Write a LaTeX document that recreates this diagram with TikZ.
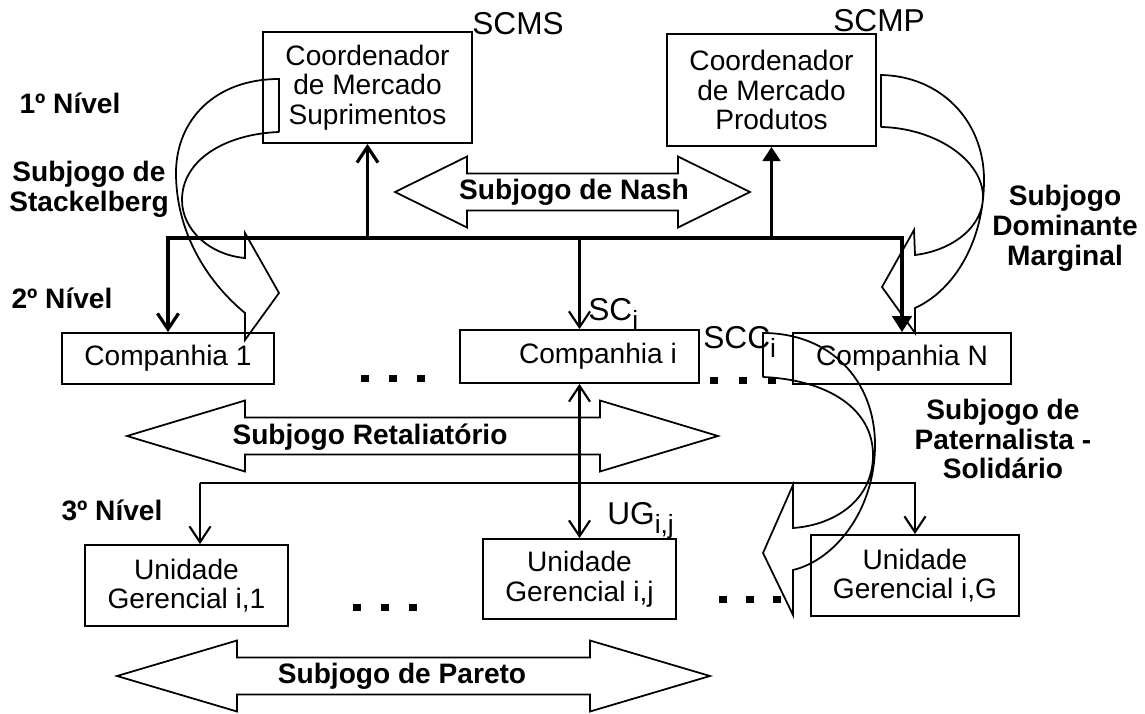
\documentclass[tikz,border=0pt]{standalone}
\usepackage{fontspec}
\setmainfont{Liberation Sans}
\usetikzlibrary{arrows.meta}

\newcommand{\sbs}[1]{\raisebox{-5.5pt}{\fontsize{15}{15}\selectfont #1}}

\begin{document}
\begin{tikzpicture}[x=0.02cm,y=-0.02cm,
        box/.style={draw,line width=1.1pt,align=center,inner sep=0pt,font=\fontsize{16}{16.8}\selectfont},
        lvl/.style={font=\bfseries\fontsize{16}{17}\selectfont,align=center,inner sep=0pt},
        sublbl/.style={font=\fontsize{18}{18}\selectfont,inner sep=0pt},
        bus/.style={line width=1.8pt},
        link/.style={line width=1.2pt},
        band/.style={draw,line width=1pt},
        tobarb/.style={-{Straight Barb[length=9pt,width=12pt]}},
        totri/.style={-{Triangle[length=8pt,width=10pt]}}]
        \useasboundingbox (0,0) rectangle (1145,713);

        % Boxes
        \node[box,minimum width=4.18cm,minimum height=2.22cm] (scms) at (367.5,87.5) {Coordenador\\de Mercado\\Suprimentos};
        \node[box,minimum width=4.18cm,minimum height=2.24cm] (scmp) at (771.5,90) {Coordenador\\de Mercado\\Produtos};
        \node[box,minimum width=4.24cm,minimum height=1.02cm] (comp1) at (168,358.5) {Companhia 1};
        \node[box,minimum width=4.78cm,minimum height=1.06cm] (compi) at (579.5,356.5) {\hspace*{21pt}Companhia i};
        \node[box,minimum width=4.36cm,minimum height=1.02cm] (compN) at (902,358.5) {Companhia N};
        \node[box,minimum width=4.06cm,minimum height=1.62cm] (ug1) at (186.5,585.5) {Unidade\\Gerencial i,1};
        \node[box,minimum width=3.86cm,minimum height=1.6cm] (ugj) at (579.5,579) {Unidade\\Gerencial i,j};
        \node[box,minimum width=4.16cm,minimum height=1.62cm] (ugG) at (915,575.5) {Unidade\\Gerencial i,G};

        % Labels
        \node[sublbl,anchor=base west] (scmsl) at (472,35) {SCMS};
        \node[sublbl,anchor=base west] (scmpl) at (833,32) {SCMP};
        \node[sublbl,anchor=base west] (scl) at (588,320) {SC\sbs{i}};
        \node[sublbl,anchor=base west] (sccl) at (703,348) {SCC\sbs{i}};
        \node[sublbl,anchor=base west] (ugl) at (607,524) {UG\sbs{i,j}};

        \node[lvl] (n1) at (70,103) {1º Nível};
        \node[lvl] (n2) at (62,298) {2º Nível};
        \node[lvl] (n3) at (112,510) {3º Nível};
        \node[lvl] (stack) at (89,189) {Subjogo de\\Stackelberg};
        \node[lvl] (domin) at (1065,228) {Subjogo\\Dominante\\Marginal};
        \node[lvl] (pater) at (1003,439) {Subjogo de\\Paternalista -\\Solidário};

        % Upper bus
        \coordinate (busL) at (comp1.north |- 0,238);
        \coordinate (busR) at (compN.north |- 0,238);
        \draw[bus,{Straight Barb[length=9pt,width=12pt]}-{Triangle[length=9pt,width=11pt]}]
            (comp1.north) -- (busL) -- (busR) -- (compN.north);
        \draw[bus,tobarb] (scms.south |- busL) -- (scms.south);
        \draw[bus,totri] (scmp.south |- busL) -- (scmp.south);
        \draw[link,tobarb] (compi.north |- busL) -- (compi.north);

        % Lower bus
        \coordinate (lowL) at (200,483);
        \coordinate (lowR) at (ugG.north |- 0,483);
        \draw[link,tobarb] (lowL) -- (lowL |- ug1.north);
        \draw[link,tobarb] (lowL) -- (lowR) -- (ugG.north);
        \draw[link,{Straight Barb[length=9pt,width=12pt]}-{Straight Barb[length=9pt,width=12pt]}]
            (compi.south) -- (ugj.north);

        % Dots
        \foreach \x/\y in {365/378,393/378,421/378,714/380,743/380,772/380,357/607,385/607,413/607,723/599,750/599,777/599}
            \fill (\x-4,\y-3.5) rectangle (\x+4,\y+3.5);

        % Double block arrows
        \foreach \xa/\xb/\yc/\hl in {395/750/192/72, 127/718/436/118, 117/710/676/120}
            \draw[band] (\xa,\yc) -- (\xa+\hl,\yc-35.5) -- (\xa+\hl,\yc-18.5) -- (\xb-\hl,\yc-18.5)
                -- (\xb-\hl,\yc-35.5) -- (\xb,\yc) -- (\xb-\hl,\yc+35.5) -- (\xb-\hl,\yc+18.5)
                -- (\xa+\hl,\yc+18.5) -- (\xa+\hl,\yc+35.5) -- cycle;
        \node[lvl] (nash) at (574,192) {Subjogo de Nash};
        \node[lvl] (retal) at (370,437) {Subjogo Retaliatório};
        \node[lvl] (pareto) at (402,676) {Subjogo de Pareto};

        % Curved arrows
        \draw[band] (279,132) -- (279,79) .. controls (215,79) and (176,120) .. (176,173)
            .. controls (176,230) and (205,280) .. (245,313) -- (245,340) -- (279,293) -- (245,233) -- (245,258)
            .. controls (210,255) and (182,230) .. (182,200) .. controls (182,160) and (225,134) .. (279,132);
        \draw[band] (881,127) -- (881,75) .. controls (940,76) and (984,120) .. (984,180)
            .. controls (984,240) and (955,290) .. (915,308) -- (915,333) -- (882,287) -- (914,230) -- (915,255)
            .. controls (955,250) and (983,225) .. (983,197) .. controls (983,160) and (935,128) .. (881,127);
        \draw[band] (763,377) -- (763,333) .. controls (830,333) and (875,380) .. (875,445)
            .. controls (875,510) and (835,560) .. (793,570) -- (793,615) -- (763,553) -- (793,485) -- (793,528)
            .. controls (835,525) and (873,500) .. (873,455) .. controls (873,410) and (830,380) .. (763,377);

    \end{tikzpicture}
\end{document}
